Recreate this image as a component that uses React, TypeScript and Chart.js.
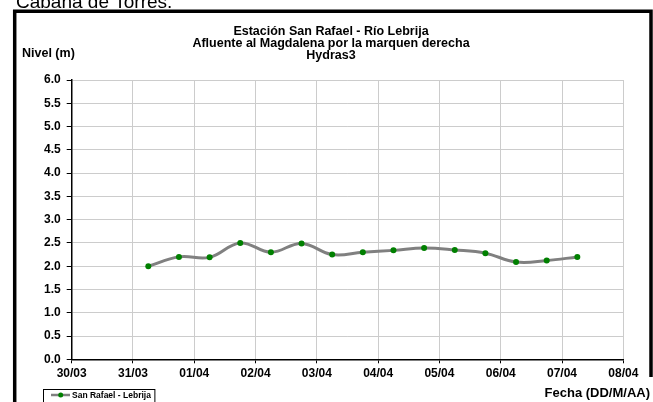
import React, { useEffect, useRef } from "react";
import { Chart, registerables } from "chart.js";

Chart.register(...registerables);

const tickLabels = ["30/03", "31/03", "01/04", "02/04", "03/04", "04/04", "05/04", "06/04", "07/04", "08/04"];
const sampleDays = ["31/03", "31/03", "01/04", "01/04", "02/04", "02/04", "03/04", "03/04", "04/04", "04/04", "05/04", "05/04", "06/04", "06/04", "07/04"];
const sampleHours = [6, 18, 6, 18, 6, 18, 6, 18, 6, 18, 6, 18, 6, 18, 6];
const levels = [2.0, 2.2, 2.19, 2.5, 2.3, 2.49, 2.25, 2.3, 2.34, 2.39, 2.35, 2.28, 2.09, 2.12, 2.2];
const seriesName = "San Rafael - Lebrija";
const titleLines = ["Estación San Rafael - Río Lebrija", "Afluente al Magdalena por la marquen derecha", "Hydras3"];
const yTitle = "Nivel (m)";
const xTitle = "Fecha (DD/M/AA)";
const headerText = "Cabaña de Torres.";

const FONT = "'Liberation Sans', Arial, sans-serif";

const decorPlugin = {
  id: "decor",
  beforeDraw(chart: any) {
    const ctx = chart.ctx;
    ctx.save();
    ctx.fillStyle = "#ffffff";
    ctx.fillRect(0, 0, chart.width, chart.height);
    ctx.restore();
  },
  afterDraw(chart: any) {
    const ctx = chart.ctx;
    ctx.save();
    // header text (cut off at top)
    ctx.fillStyle = "#000";
    ctx.font = `19px ${FONT}`;
    ctx.textAlign = "left";
    ctx.textBaseline = "alphabetic";
    ctx.fillText(headerText, 16, 8);

    // frame
    ctx.strokeStyle = "#000";
    ctx.lineWidth = 3.5;
    ctx.beginPath();
    ctx.moveTo(14.7, 410);
    ctx.lineTo(14.7, 11.3);
    ctx.lineTo(651, 11.3);
    ctx.lineTo(651, 377);
    ctx.stroke();

    // title
    ctx.font = `bold 12.5px ${FONT}`;
    ctx.textAlign = "center";
    ctx.textBaseline = "middle";
    titleLines.forEach((t, i) => ctx.fillText(t, 331, 32 + i * 12));

    // y title
    ctx.textAlign = "left";
    ctx.fillText(yTitle, 22, 54);

    // x title
    ctx.font = `bold 13px ${FONT}`;
    ctx.textAlign = "right";
    ctx.fillText(xTitle, 650, 393);

    // legend
    const ds = chart.data.datasets[0];
    ctx.font = `bold 8.5px ${FONT}`;
    const tw = ctx.measureText(ds.label).width;
    ctx.lineWidth = 1;
    ctx.strokeStyle = "#000";
    ctx.strokeRect(43.5, 389.5, 72 + tw + 4 - 43.5, 20);
    ctx.strokeStyle = ds.borderColor;
    ctx.lineWidth = 2.5;
    ctx.beginPath();
    ctx.moveTo(51, 395);
    ctx.lineTo(70, 395);
    ctx.stroke();
    ctx.fillStyle = ds.pointBackgroundColor;
    ctx.beginPath();
    ctx.arc(60.7, 395, 2.5, 0, Math.PI * 2);
    ctx.fill();
    ctx.fillStyle = "#000";
    ctx.textAlign = "left";
    ctx.textBaseline = "middle";
    ctx.fillText(ds.label, 72, 395.5);
    ctx.restore();
  },
};

export default function App() {
  const ref = useRef<HTMLCanvasElement>(null);
  useEffect(() => {
    const points = levels.map((v, i) => ({
      x: tickLabels.indexOf(sampleDays[i]) + sampleHours[i] / 24,
      y: v,
    }));
    const chart = new Chart(ref.current!, {
      type: "line",
      data: {
        datasets: [
          {
            label: seriesName,
            data: points,
            borderColor: "#808080",
            borderWidth: 3,
            tension: 0.4,
            pointRadius: 3,
            pointBackgroundColor: "#008000",
            pointBorderColor: "#008000",
            pointBorderWidth: 0,
          },
        ],
      },
      options: {
        responsive: false,
        animation: false,
        devicePixelRatio: 1,
        layout: { padding: { left: 0, top: 80, right: 29.7, bottom: 0 } },
        plugins: { legend: { display: false }, title: { display: false }, tooltip: { enabled: false } },
        scales: {
          x: {
            type: "linear",
            min: 0,
            max: tickLabels.length - 1,
            afterFit: (s: any) => {
              s.height = 42.7;
            },
            ticks: {
              stepSize: 1,
              autoSkip: false,
              maxRotation: 0,
              padding: 3,
              color: "#000",
              font: { family: FONT, size: 12, weight: "bold" },
              callback: (v: any) => tickLabels[Math.round(Number(v))] ?? "",
            },
            grid: { color: "#cccccc", lineWidth: 1, tickLength: 4, tickColor: "#000" },
            border: { color: "#000", width: 1.5 },
          },
          y: {
            min: 0,
            max: 6,
            afterFit: (s: any) => {
              s.width = 71.7;
            },
            ticks: {
              stepSize: 0.5,
              padding: 6,
              color: "#000",
              font: { family: FONT, size: 12, weight: "bold" },
              callback: (v: any) => Number(v).toFixed(1),
            },
            grid: { color: "#cccccc", lineWidth: 1, tickLength: 5, tickColor: "#000" },
            border: { color: "#000", width: 1.5 },
          },
        },
      },
      plugins: [decorPlugin],
    });
    return () => chart.destroy();
  }, []);
  return (
    <div style={{ position: "fixed", left: 0, top: 0, width: 653, height: 402, background: "#fff" }}>
      <canvas ref={ref} width={653} height={402} style={{ display: "block" }} />
    </div>
  );
}
